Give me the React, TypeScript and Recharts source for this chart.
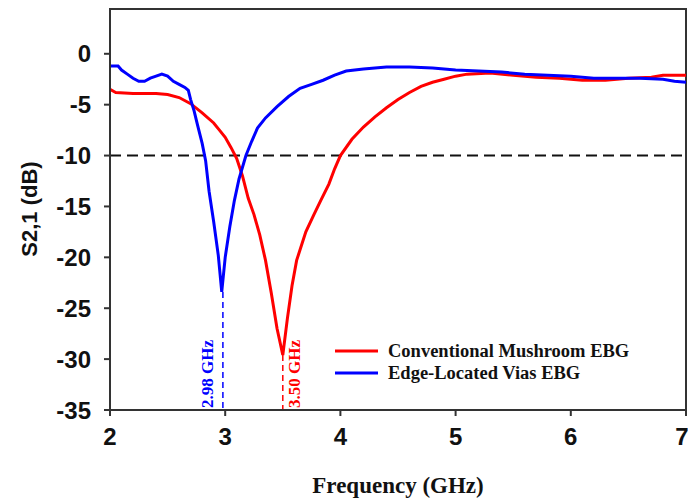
import React from 'react';
import {
  LineChart,
  Line,
  XAxis,
  YAxis,
  ReferenceLine,
  ReferenceArea,
  Legend,
} from 'recharts';

// Conventional Mushroom EBG (red)
const redFreq = [
  2.0, 2.05, 2.2, 2.4, 2.5, 2.6, 2.7, 2.8, 2.9, 2.95, 3.0, 3.05, 3.1, 3.15, 3.2,
  3.25, 3.3, 3.35, 3.4, 3.45, 3.5, 3.54, 3.58, 3.62, 3.7, 3.77, 3.83, 3.9, 3.95,
  4.0, 4.1, 4.2, 4.3, 4.4, 4.5, 4.6, 4.7, 4.8, 4.9, 5.0, 5.1, 5.3, 5.5, 5.7, 5.9,
  6.1, 6.3, 6.5, 6.7, 6.8, 7.0,
];
const redS21 = [
  -3.5, -3.8, -3.9, -3.9, -4.0, -4.3, -4.9, -5.8, -6.8, -7.5, -8.2, -9.2, -10.3,
  -12.0, -14.2, -15.8, -17.8, -20.3, -23.5, -27.0, -29.6, -26.0, -22.8, -20.3,
  -17.5, -15.8, -14.4, -12.8, -11.3, -10.0, -8.4, -7.2, -6.2, -5.3, -4.5, -3.8,
  -3.2, -2.8, -2.5, -2.2, -2.0, -1.9, -2.1, -2.3, -2.4, -2.6, -2.6, -2.4, -2.3,
  -2.1, -2.1,
];

// Edge-Located Vias EBG (blue)
const blueFreq = [
  2.0, 2.07, 2.1, 2.15, 2.2, 2.25, 2.3, 2.35, 2.4, 2.45, 2.5, 2.55, 2.6, 2.65,
  2.68, 2.7, 2.73, 2.76, 2.8, 2.83, 2.86, 2.9, 2.94, 2.97, 3.0, 3.04, 3.08, 3.12,
  3.18, 3.23, 3.28, 3.35, 3.45, 3.55, 3.65, 3.75, 3.85, 3.95, 4.05, 4.2, 4.4,
  4.6, 4.8, 5.0, 5.2, 5.4, 5.6, 5.8, 6.0, 6.2, 6.4, 6.6, 6.8, 6.9, 7.0,
];
const blueS21 = [
  -1.2, -1.2, -1.6, -2.0, -2.4, -2.7, -2.7, -2.4, -2.2, -2.0, -2.2, -2.7, -3.0,
  -3.3, -3.6, -4.5, -5.6, -7.0, -8.8, -10.5, -13.5, -16.5, -19.8, -23.4, -20.0,
  -17.0, -14.4, -12.3, -10.0, -8.6, -7.3, -6.3, -5.2, -4.2, -3.4, -3.0, -2.6,
  -2.1, -1.7, -1.5, -1.3, -1.3, -1.4, -1.6, -1.7, -1.8, -2.0, -2.1, -2.2, -2.4,
  -2.4, -2.4, -2.5, -2.7, -2.8,
];

const xTicks = [2, 3, 4, 5, 6, 7];
const yTicks = [-35, -30, -25, -20, -15, -10, -5, 0];
const xDomain = [2, 7];
const yDomain = [-35, 4.4];
const threshold = -10;
const blueRes = { f: 2.98, s21: -23.4, label: '2.98 GHz' };
const redRes = { f: 3.5, s21: -29.6, label: '3.50 GHz' };

const redData = redFreq.map((f, i) => ({ f, s21: redS21[i] }));
const blueData = blueFreq.map((f, i) => ({ f, s21: blueS21[i] }));

const SANS = '"Liberation Sans", Arial, sans-serif';
const SERIF = '"Liberation Serif", "Times New Roman", serif';
const AXIS = '#333';

function FreqLabel({ viewBox, text, color, dx }: any) {
  if (!viewBox) return null;
  const x = viewBox.x + dx;
  const y = viewBox.y + viewBox.height - 2;
  return (
    <text
      transform={`translate(${x},${y}) rotate(-90)`}
      textAnchor="start"
      fill={color}
      fontFamily={SERIF}
      fontWeight="bold"
      fontSize={17}
    >
      {text}
    </text>
  );
}

function LegendBox({ payload }: any) {
  return (
    <div style={{ fontFamily: SERIF, fontWeight: 'bold', fontSize: 18.5, color: '#111' }}>
      {(payload || []).map((p: any) => (
        <div key={p.value} style={{ display: 'flex', alignItems: 'center', height: 22 }}>
          <svg width={43} height={6} style={{ marginRight: 10 }}>
            <line x1={0} y1={3} x2={43} y2={3} stroke={p.color} strokeWidth={3} />
          </svg>
          <span>{p.value}</span>
        </div>
      ))}
    </div>
  );
}

export default function App() {
  return (
    <div style={{ position: 'absolute', left: 0, top: 0, background: '#fff' }}>
      <LineChart
        width={688}
        height={504}
        margin={{ top: 7, right: 2, bottom: 0, left: 0 }}
      >
        <XAxis
          xAxisId="main"
          dataKey="f"
          type="number"
          domain={xDomain}
          ticks={xTicks}
          allowDataOverflow
          height={94}
          tickSize={6}
          tickMargin={12}
          tick={{ fontSize: 24, fontFamily: SANS, fontWeight: 'bold', fill: '#111' }}
          axisLine={{ stroke: AXIS, strokeWidth: 2 }}
          tickLine={{ stroke: AXIS, strokeWidth: 2 }}
          label={{
            value: 'Frequency (GHz)',
            position: 'insideBottom',
            offset: 11,
            style: { fontSize: 23, fontFamily: SERIF, fontWeight: 'bold', fill: '#111' },
          }}
        />
        {/* top edge of the plot box */}
        <XAxis
          xAxisId="top"
          orientation="top"
          type="number"
          domain={xDomain}
          ticks={xTicks}
          allowDataOverflow
          height={2}
          tick={false}
          tickLine={false}
          axisLine={{ stroke: AXIS, strokeWidth: 2 }}
        />
        <YAxis
          yAxisId="main"
          type="number"
          domain={yDomain}
          ticks={yTicks}
          allowDataOverflow
          width={110}
          tickSize={6}
          tickMargin={13}
          tick={{ fontSize: 24, fontFamily: SANS, fontWeight: 'bold', fill: '#111' }}
          axisLine={{ stroke: AXIS, strokeWidth: 2 }}
          tickLine={{ stroke: AXIS, strokeWidth: 2 }}
          label={{
            content: () => (
              <text
                transform="translate(37,209) rotate(-90)"
                textAnchor="middle"
                fontSize={22}
                fontFamily={SANS}
                fontWeight="bold"
                fill="#111"
              >
                S2,1 (dB)
              </text>
            ),
          }}
        />
        {/* plot frame */}
        <ReferenceArea
          xAxisId="main"
          yAxisId="main"
          x1={xDomain[0]}
          x2={xDomain[1]}
          y1={yDomain[0]}
          y2={yDomain[1]}
          fill="none"
          fillOpacity={0}
          stroke={AXIS}
          strokeWidth={2}
          ifOverflow="visible"
        />
        <ReferenceLine
          xAxisId="main"
          yAxisId="main"
          y={threshold}
          stroke="#111"
          strokeWidth={2}
          strokeDasharray="11 6"
        />
        <ReferenceLine
          xAxisId="main"
          yAxisId="main"
          segment={[
            { x: blueRes.f, y: blueRes.s21 },
            { x: blueRes.f, y: -35 },
          ]}
          stroke="#0000ff"
          strokeWidth={1.5}
          strokeDasharray="6 4"
          label={<FreqLabel text={blueRes.label} color="#0000ff" dx={-10} />}
        />
        <ReferenceLine
          xAxisId="main"
          yAxisId="main"
          segment={[
            { x: redRes.f, y: redRes.s21 },
            { x: redRes.f, y: -35 },
          ]}
          stroke="#ff0000"
          strokeWidth={1.5}
          strokeDasharray="6 4"
          label={<FreqLabel text={redRes.label} color="#ff0000" dx={17} />}
        />
        <Line
          xAxisId="main"
          yAxisId="main"
          data={redData}
          dataKey="s21"
          name="Conventional Mushroom EBG"
          type="linear"
          stroke="#ff0000"
          strokeWidth={3}
          dot={false}
          isAnimationActive={false}
        />
        <Line
          xAxisId="main"
          yAxisId="main"
          data={blueData}
          dataKey="s21"
          name="Edge-Located Vias EBG"
          type="linear"
          stroke="#0000ff"
          strokeWidth={3}
          dot={false}
          isAnimationActive={false}
        />
        <Legend
          layout="vertical"
          align="center"
          verticalAlign="middle"
          content={<LegendBox />}
          wrapperStyle={{ left: 335, top: 340, width: 320 }}
        />
      </LineChart>
    </div>
  );
}
